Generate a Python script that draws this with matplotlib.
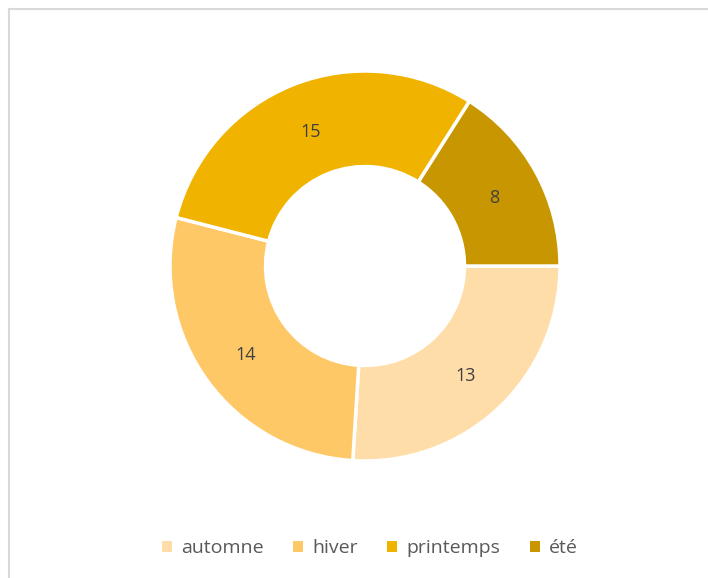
import matplotlib
matplotlib.use("Agg")
import matplotlib.pyplot as plt
import numpy as np
from matplotlib.lines import Line2D
from matplotlib.patches import Patch

categories = ["automne", "hiver", "printemps", "été"]
values = [13, 14, 15, 8]
colors = ["#FFDDA9", "#FFC867", "#F0B400", "#C89600"]

plt.rcParams['font.family'] = ['Open Sans', 'DejaVu Sans']

W, H = 708, 578
fig = plt.figure(figsize=(W/100, H/100), dpi=100)

# border lines (chart frame)
fig.add_artist(Line2D([8.5/W, 8.5/W], [0, 1 - 8.5/H], color="#D9D9D9", lw=1.5, transform=fig.transFigure))
fig.add_artist(Line2D([8.5/W, 1], [1 - 8.5/H, 1 - 8.5/H], color="#D9D9D9", lw=1.5, transform=fig.transFigure))

cx, cy, R = 365, 266, 195
ax = fig.add_axes([(cx - R)/W, (H - cy - R)/H, 2*R/W, 2*R/H])
wedges, _ = ax.pie(values, colors=colors, startangle=0, counterclock=False,
                   radius=1.0, wedgeprops=dict(width=0.49, edgecolor="white", linewidth=2.5))
ax.set_xlim(-1.0, 1.0)
ax.set_ylim(-1.0, 1.0)
ax.set_aspect("equal")
ax.axis("off")

for w, v in zip(wedges, values):
    ang = np.deg2rad((w.theta1 + w.theta2) / 2)
    r = 0.755
    ax.text(r*np.cos(ang), r*np.sin(ang) - 0.015, str(v), ha="center", va="center",
            fontsize=13, color="#404040")

handles = [Patch(facecolor=c, edgecolor="none") for c in colors]
fig.legend(handles, categories, loc="center", bbox_to_anchor=(370/W, 1 - 548/H),
           ncol=4, frameon=False, fontsize=14, labelcolor="#595959",
           handlelength=0.5, handleheight=0.5, handletextpad=0.5, columnspacing=1.5)

fig.savefig("out.png", dpi=100)
